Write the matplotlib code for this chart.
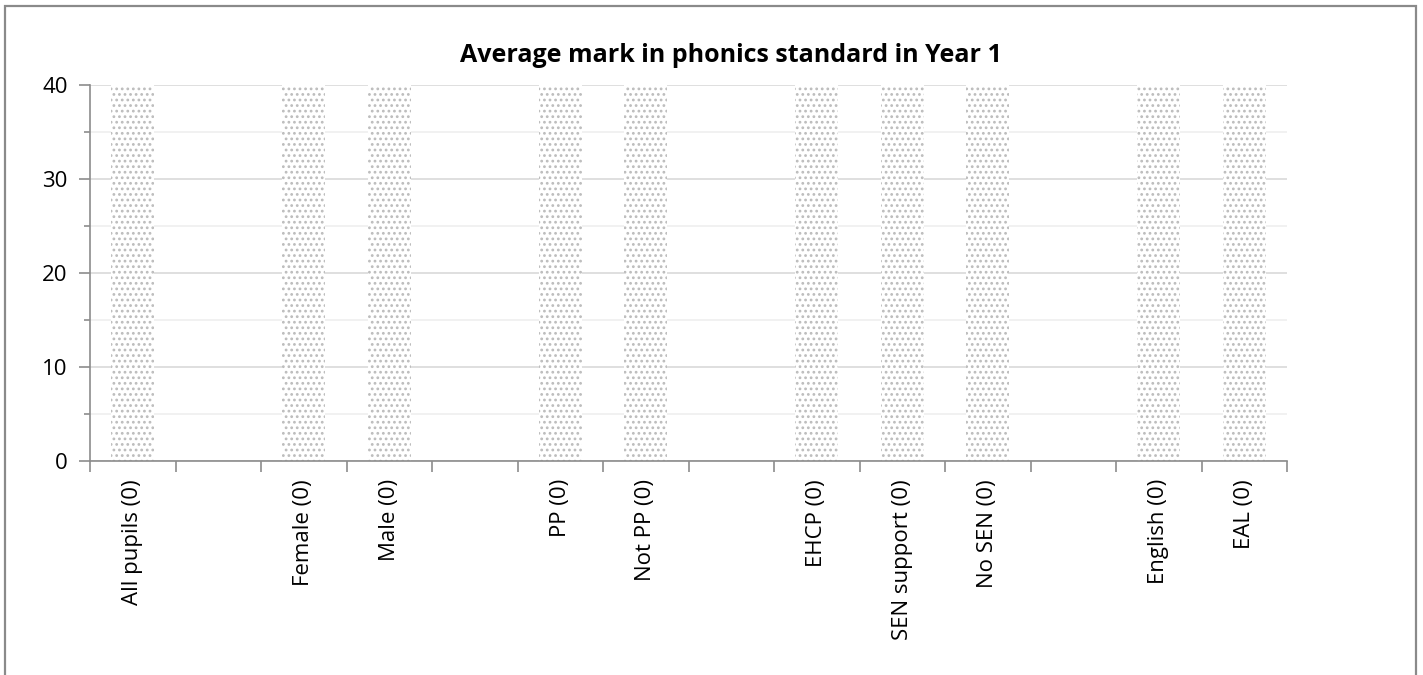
import numpy as np
import matplotlib.pyplot as plt
from matplotlib.patches import Rectangle
from matplotlib.ticker import MultipleLocator

# categories (blank slots are the gaps between groups)
categories = ["All pupils (0)", "", "Female (0)", "Male (0)", "",
              "PP (0)", "Not PP (0)", "", "EHCP (0)", "SEN support (0)",
              "No SEN (0)", "", "English (0)", "EAL (0)"]
# bars drawn to the top of the axis for every non-blank category
bar_values = [40, 0, 40, 40, 0, 40, 40, 0, 40, 40, 40, 0, 40, 40]

plt.rcParams['font.family'] = ['Open Sans', 'DejaVu Sans']

fig = plt.figure(figsize=(14.23, 6.75), dpi=100)
ax = fig.add_axes([90 / 1423, 1 - 461 / 675, (1287 - 90) / 1423, (461 - 85) / 675])

x = np.arange(len(categories))
plt.rcParams['hatch.color'] = '#bcbcbc'
plt.rcParams['hatch.linewidth'] = 1.2
ax.bar(x, bar_values, width=0.5, color='white', hatch='...',
       edgecolor='#bcbcbc', linewidth=0, zorder=2)

ax.set_xlim(-0.5, len(categories) - 0.5)
ax.set_ylim(0, 40)

ax.yaxis.set_major_locator(MultipleLocator(10))
ax.yaxis.set_minor_locator(MultipleLocator(5))
ax.grid(axis='y', which='major', color='#d9d9d9', linewidth=1.2, zorder=0)
ax.grid(axis='y', which='minor', color='#efefef', linewidth=1.2, zorder=0)
ax.set_axisbelow(True)

ax.set_xticks(x)
ax.set_xticklabels(categories, rotation=90, fontsize=16)
ax.set_xticks(np.arange(len(categories) + 1) - 0.5, minor=True)
ax.tick_params(axis='x', which='major', length=0, pad=13)
ax.tick_params(axis='x', which='minor', length=8, width=1.2, color='#8c8c8c',
               direction='out')
ax.tick_params(axis='y', which='major', length=8, width=1.2, color='#8c8c8c',
               labelsize=16, pad=8)
ax.tick_params(axis='y', which='minor', length=4, width=1.2, color='#8c8c8c')

for side in ['top', 'right']:
    ax.spines[side].set_visible(False)
for side in ['left', 'bottom']:
    ax.spines[side].set_color('#8c8c8c')
    ax.spines[side].set_linewidth(1.2)

fig.text(731 / 1423, 1 - 55 / 675, "Average mark in phonics standard in Year 1",
         ha='center', va='center', fontsize=18, fontweight='bold')

# chart area border (bottom edge falls outside the image)
fig.patches.append(Rectangle((4.5 / 1423, -0.05), (1416 - 4.5) / 1423,
                             1.05 - 5.5 / 675, transform=fig.transFigure,
                             fill=False, edgecolor='#8a8a8a', linewidth=1.6,
                             clip_on=False))

fig.savefig("out.png", dpi=100)
